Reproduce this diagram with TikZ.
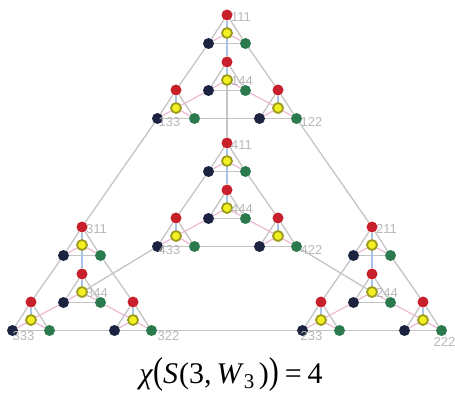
\documentclass[tikz,border=0pt]{standalone}
\usepackage{fontspec}
\setmainfont{Liberation Serif}
\newfontfamily\labfont{Liberation Sans}
\usetikzlibrary{calc}
\pgfdeclarelayer{bg}
\pgfsetlayers{bg,main}
\definecolor{cred}{HTML}{C8202A}
\definecolor{cnavy}{HTML}{1C2340}
\definecolor{cgreen}{HTML}{2A7A4E}
\definecolor{cyel}{HTML}{F2F020}
\definecolor{colive}{HTML}{9A9A20}
\definecolor{cedge}{HTML}{C4C4C4}
\definecolor{cblue}{HTML}{A8C4EC}
\definecolor{cpink}{HTML}{EDB8D4}
\definecolor{clab}{HTML}{B8B8B8}
\tikzset{
  vtx/.style={circle,inner sep=0pt,minimum size=11pt,draw=none},
  rednode/.style={vtx,fill=cred},
  navynode/.style={vtx,fill=cnavy},
  greennode/.style={vtx,fill=cgreen},
  yelnode/.style={vtx,fill=cyel,draw=colive,line width=1.8pt,minimum size=10pt},
  edge/.style={draw=cedge,line width=1.3pt},
  spokeblue/.style={draw=cblue,line width=1.2pt},
  spokepink/.style={draw=cpink,line width=1.2pt},
  lab/.style={inner sep=0pt,text=clab,font=\labfont\fontsize{13}{13}\selectfont}
}
\begin{document}
\begin{tikzpicture}[x=1pt,y=-1pt]
\useasboundingbox (0,0) rectangle (455,396);
\foreach \i/\bx/\by in {1/0/0,2/145/212,3/-145/212,4/0/128}{
  \foreach \j/\mx/\my in {1/0/0,2/51/75,3/-51/75,4/0/47}{
    \pgfmathsetmacro{\X}{227+\bx+\mx}
    \pgfmathsetmacro{\Y}{15+\by+\my}
    \pgfmathsetmacro{\XL}{\X-18.5}
    \pgfmathsetmacro{\XR}{\X+18.5}
    \pgfmathsetmacro{\YB}{\Y+28.5}
    \pgfmathsetmacro{\YC}{\Y+18}
    \node[rednode] (v\i\j1) at (\X,\Y) {};
    \node[greennode] (v\i\j2) at (\XR,\YB) {};
    \node[navynode] (v\i\j3) at (\XL,\YB) {};
    \node[yelnode] (v\i\j4) at (\X,\YC) {};
  }
}
\begin{pgfonlayer}{bg}
\foreach \i in {1,2,3,4}{
  \foreach \j in {1,2,3,4}{
    \draw[edge] (v\i\j1) -- (v\i\j2);
    \draw[edge] (v\i\j2) -- (v\i\j3);
    \draw[edge] (v\i\j3) -- (v\i\j1);
    \draw[spokeblue] (v\i\j4) -- (v\i\j1);
    \draw[spokepink] (v\i\j4) -- (v\i\j2);
    \draw[spokepink] (v\i\j4) -- (v\i\j3);
  }
  \foreach \a/\b in {1/2,1/3,2/3}{
    \draw[edge] (v\i\a\b) -- (v\i\b\a);
  }
  \draw[spokeblue] (v\i14) -- (v\i41);
  \draw[spokepink] (v\i43) -- (v\i34);
  \draw[spokepink] (v\i42) -- (v\i24);
}
\foreach \a/\b in {1/2,1/3,1/4,2/3,2/4,3/4}{
  \draw[edge] (v\a\b\b) -- (v\b\a\a);
}
\end{pgfonlayer}
% labels
\foreach \i/\n in {1/1,2/2,3/3,4/4}{
  \node[lab,anchor=west] (l\i11) at ($(v\i11.center)+(4,2)$) {\n11};
  \node[lab,anchor=west] (l\i44) at ($(v\i44.center)+(4,1)$) {\n44};
}
\node[lab,anchor=west] (l133) at ($(v133.center)+(1,4)$) {133};
\node[lab,anchor=west] (l122) at ($(v122.center)+(4,3)$) {122};
\node[lab,anchor=west] (l433) at ($(v433.center)+(1,4)$) {433};
\node[lab,anchor=west] (l422) at ($(v422.center)+(4,3)$) {422};
\node[lab,anchor=west] (l333) at ($(v333.center)+(0,6)$) {333};
\node[lab,anchor=west] (l322) at ($(v322.center)+(6,6)$) {322};
\node[lab,anchor=west] (l233) at ($(v233.center)+(-2,6)$) {233};
\node[lab,anchor=east] (l222) at ($(v222.center)+(14,11)$) {222};
\node[anchor=base,inner sep=0pt,font=\fontsize{30}{30}\selectfont] (formula) at (231,383)
  {\textit{χ}\scalebox{1}[1.25]{(}\textit{S}\kern1pt(3,\,\textit{W}\textsubscript{3}\kern4pt)\scalebox{1}[1.25]{)}\kern6pt=\kern6pt4};
\end{tikzpicture}
\end{document}
